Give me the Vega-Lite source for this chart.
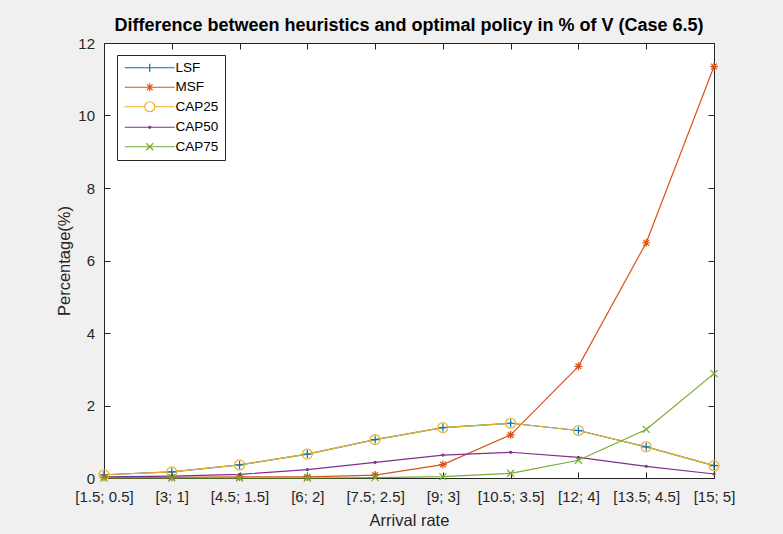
{
  "$schema": "https://vega.github.io/schema/vega-lite/v6.json",
  "width": 610,
  "height": 435,
  "autosize": "none",
  "padding": {"left": 104, "top": 43, "right": 69, "bottom": 56},
  "background": "#f0f0f0",
  "config": {
    "view": {"fill": "white", "stroke": "#262626", "strokeWidth": 1},
    "font": "Liberation Sans"
  },
  "title": {
    "text": "Difference between heuristics and optimal policy in % of V (Case 6.5)",
    "fontSize": 18,
    "fontWeight": "bold",
    "font": "Liberation Sans",
    "color": "black",
    "anchor": "middle",
    "frame": "group",
    "baseline": "alphabetic",
    "offset": -13
  },
  "data": {
    "values": [
      {"rate": "[1.5; 0.5]", "series": "LSF", "value": 0.09},
      {"rate": "[3; 1]", "series": "LSF", "value": 0.17},
      {"rate": "[4.5; 1.5]", "series": "LSF", "value": 0.36},
      {"rate": "[6; 2]", "series": "LSF", "value": 0.66},
      {"rate": "[7.5; 2.5]", "series": "LSF", "value": 1.06},
      {"rate": "[9; 3]", "series": "LSF", "value": 1.39},
      {"rate": "[10.5; 3.5]", "series": "LSF", "value": 1.51},
      {"rate": "[12; 4]", "series": "LSF", "value": 1.31},
      {"rate": "[13.5; 4.5]", "series": "LSF", "value": 0.86},
      {"rate": "[15; 5]", "series": "LSF", "value": 0.34},
      {"rate": "[1.5; 0.5]", "series": "MSF", "value": 0.02},
      {"rate": "[3; 1]", "series": "MSF", "value": 0.02},
      {"rate": "[4.5; 1.5]", "series": "MSF", "value": 0.03},
      {"rate": "[6; 2]", "series": "MSF", "value": 0.03},
      {"rate": "[7.5; 2.5]", "series": "MSF", "value": 0.08},
      {"rate": "[9; 3]", "series": "MSF", "value": 0.37},
      {"rate": "[10.5; 3.5]", "series": "MSF", "value": 1.19},
      {"rate": "[12; 4]", "series": "MSF", "value": 3.08},
      {"rate": "[13.5; 4.5]", "series": "MSF", "value": 6.49},
      {"rate": "[15; 5]", "series": "MSF", "value": 11.35},
      {"rate": "[1.5; 0.5]", "series": "CAP25", "value": 0.09},
      {"rate": "[3; 1]", "series": "CAP25", "value": 0.17},
      {"rate": "[4.5; 1.5]", "series": "CAP25", "value": 0.36},
      {"rate": "[6; 2]", "series": "CAP25", "value": 0.66},
      {"rate": "[7.5; 2.5]", "series": "CAP25", "value": 1.06},
      {"rate": "[9; 3]", "series": "CAP25", "value": 1.39},
      {"rate": "[10.5; 3.5]", "series": "CAP25", "value": 1.51},
      {"rate": "[12; 4]", "series": "CAP25", "value": 1.31},
      {"rate": "[13.5; 4.5]", "series": "CAP25", "value": 0.86},
      {"rate": "[15; 5]", "series": "CAP25", "value": 0.34},
      {"rate": "[1.5; 0.5]", "series": "CAP50", "value": 0.03},
      {"rate": "[3; 1]", "series": "CAP50", "value": 0.05},
      {"rate": "[4.5; 1.5]", "series": "CAP50", "value": 0.1},
      {"rate": "[6; 2]", "series": "CAP50", "value": 0.23},
      {"rate": "[7.5; 2.5]", "series": "CAP50", "value": 0.43},
      {"rate": "[9; 3]", "series": "CAP50", "value": 0.63},
      {"rate": "[10.5; 3.5]", "series": "CAP50", "value": 0.71},
      {"rate": "[12; 4]", "series": "CAP50", "value": 0.57},
      {"rate": "[13.5; 4.5]", "series": "CAP50", "value": 0.32},
      {"rate": "[15; 5]", "series": "CAP50", "value": 0.11},
      {"rate": "[1.5; 0.5]", "series": "CAP75", "value": 0.0},
      {"rate": "[3; 1]", "series": "CAP75", "value": 0.0},
      {"rate": "[4.5; 1.5]", "series": "CAP75", "value": 0.0},
      {"rate": "[6; 2]", "series": "CAP75", "value": 0.0},
      {"rate": "[7.5; 2.5]", "series": "CAP75", "value": 0.01},
      {"rate": "[9; 3]", "series": "CAP75", "value": 0.04},
      {"rate": "[10.5; 3.5]", "series": "CAP75", "value": 0.13},
      {"rate": "[12; 4]", "series": "CAP75", "value": 0.49},
      {"rate": "[13.5; 4.5]", "series": "CAP75", "value": 1.34},
      {"rate": "[15; 5]", "series": "CAP75", "value": 2.88}
    ]
  },
  "layer": [
    {
      "mark": {"type": "line", "strokeWidth": 1.2},
      "encoding": {
        "x": {
          "field": "rate", "type": "ordinal", "sort": null,
          "scale": {"type": "point", "padding": 0},
          "axis": {
            "orient": "bottom", "title": "Arrival rate", "labelAngle": 0,
            "tickSize": -6, "tickColor": "#262626", "labelPadding": 17,
            "domain": false, "grid": false, "labelOverlap": false, "labelFlush": false,
            "labelFontSize": 15, "labelColor": "#262626", "labelFont": "Liberation Sans",
            "titleFontSize": 16.5, "titleColor": "#262626", "titleFontWeight": "normal",
            "titleFont": "Liberation Sans", "titlePadding": 8
          }
        },
        "y": {
          "field": "value", "type": "quantitative",
          "scale": {"domain": [0, 12], "nice": false, "zero": true},
          "axis": {
            "orient": "left", "title": "Percentage(%)", "values": [0, 2, 4, 6, 8, 10, 12],
            "tickSize": -6, "tickColor": "#262626", "labelPadding": 15.5,
            "domain": false, "grid": false, "labelFlush": false,
            "labelFontSize": 15, "labelColor": "#262626", "labelFont": "Liberation Sans",
            "titleFontSize": 16.5, "titleColor": "#262626", "titleFontWeight": "normal",
            "titleFont": "Liberation Sans", "titlePadding": 5
          }
        },
        "color": {
          "field": "series", "type": "nominal",
          "scale": {
            "domain": ["LSF", "MSF", "CAP25", "CAP50", "CAP75"],
            "range": ["#0072BD", "#D95319", "#EDB120", "#7E2F8E", "#77AC30"]
          },
          "legend": {
            "title": null, "orient": "none", "legendX": 13, "legendY": 12,
            "padding": 6, "strokeColor": "#262626", "fillColor": "white",
            "symbolSize": 100, "symbolStrokeWidth": 1.2, "labelOffset": 39,
            "labelFontSize": 13.5, "labelFont": "Liberation Sans", "labelColor": "black",
            "rowPadding": 4.5,
            "encode": {
              "symbols": {
                "update": {
                  "shape": {"signal": "datum.value === 'LSF' ? 'M-1,0L9,0M4,-0.8L4,0.8' : datum.value === 'MSF' ? 'M-1,0L9,0M4,-0.8L4,0.8M3.43,-0.57L4.57,0.57M3.43,0.57L4.57,-0.57' : datum.value === 'CAP25' ? 'M-1,0L3,0M5,0L9,0M3,0A1,1 0 1,0 5,0A1,1 0 1,0 3,0Z' : datum.value === 'CAP50' ? 'M-1,0L9,0M3.8,0A0.2,0.2 0 1,0 4.2,0A0.2,0.2 0 1,0 3.8,0Z' : 'M-1,0L9,0M3.3,-0.7L4.7,0.7M3.3,0.7L4.7,-0.7'"},
                  "fill": {"value": "transparent"}
                }
              }
            }
          }
        }
      }
    },
    {
      "transform": [{"filter": "datum.series === 'LSF'"}],
      "mark": {"type": "point", "filled": false, "size": 100, "strokeWidth": 1.2, "opacity": 1, "color": "#0072BD", "shape": "M-0.8,0L0.8,0M0,-0.8L0,0.8"},
      "encoding": {
        "x": {"field": "rate", "type": "ordinal", "sort": null, "axis": null},
        "y": {"field": "value", "type": "quantitative", "axis": null}
      }
    },
    {
      "transform": [{"filter": "datum.series === 'MSF'"}],
      "mark": {"type": "point", "filled": false, "size": 100, "strokeWidth": 1.2, "opacity": 1, "color": "#D95319", "shape": "M-0.8,0L0.8,0M0,-0.8L0,0.8M-0.57,-0.57L0.57,0.57M-0.57,0.57L0.57,-0.57"},
      "encoding": {
        "x": {"field": "rate", "type": "ordinal", "sort": null, "axis": null},
        "y": {"field": "value", "type": "quantitative", "axis": null}
      }
    },
    {
      "transform": [{"filter": "datum.series === 'CAP25'"}],
      "mark": {"type": "point", "filled": false, "size": 100, "strokeWidth": 1.2, "opacity": 1, "color": "#EDB120", "shape": "M-1,0A1,1 0 1,0 1,0A1,1 0 1,0 -1,0Z"},
      "encoding": {
        "x": {"field": "rate", "type": "ordinal", "sort": null, "axis": null},
        "y": {"field": "value", "type": "quantitative", "axis": null}
      }
    },
    {
      "transform": [{"filter": "datum.series === 'CAP50'"}],
      "mark": {"type": "point", "filled": false, "size": 100, "strokeWidth": 1.2, "opacity": 1, "color": "#7E2F8E", "shape": "M-0.2,0A0.2,0.2 0 1,0 0.2,0A0.2,0.2 0 1,0 -0.2,0Z"},
      "encoding": {
        "x": {"field": "rate", "type": "ordinal", "sort": null, "axis": null},
        "y": {"field": "value", "type": "quantitative", "axis": null}
      }
    },
    {
      "transform": [{"filter": "datum.series === 'CAP75'"}],
      "mark": {"type": "point", "filled": false, "size": 100, "strokeWidth": 1.2, "opacity": 1, "color": "#77AC30", "shape": "M-0.7,-0.7L0.7,0.7M-0.7,0.7L0.7,-0.7"},
      "encoding": {
        "x": {"field": "rate", "type": "ordinal", "sort": null, "axis": null},
        "y": {"field": "value", "type": "quantitative", "axis": null}
      }
    },
    {
      "mark": {"type": "line", "opacity": 0},
      "encoding": {
        "x": {
          "field": "rate", "type": "ordinal", "sort": null,
          "axis": {"orient": "top", "title": null, "labels": false, "domain": false, "grid": false, "tickSize": -6, "tickColor": "#262626"}
        },
        "y": {
          "field": "value", "type": "quantitative",
          "axis": {"orient": "right", "title": null, "labels": false, "domain": false, "grid": false, "tickSize": -6, "tickColor": "#262626", "values": [0, 2, 4, 6, 8, 10, 12]}
        },
        "detail": {"field": "series"}
      }
    }
  ],
  "resolve": {"axis": {"x": "independent", "y": "independent"}}
}
